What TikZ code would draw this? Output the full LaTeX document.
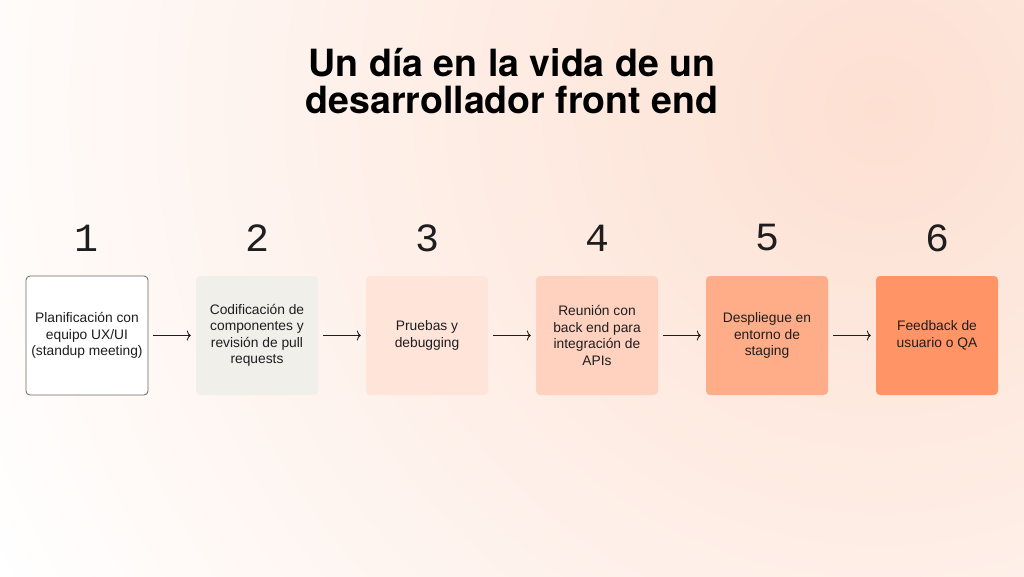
\documentclass[tikz,border=0pt]{standalone}
\usepackage{fontspec}
\usetikzlibrary{arrows.meta}
\setmainfont{Liberation Sans}
\newfontfamily\titlefont{TeX Gyre Heros}
\newfontfamily\numfont{Liberation Mono}
\definecolor{bgpeach}{HTML}{FDE0D2}
\definecolor{textdark}{HTML}{1E1E1E}
\definecolor{boxgray}{HTML}{F1EFEA}
\definecolor{boxpeachA}{HTML}{FFE4DA}
\definecolor{boxpeachB}{HTML}{FFD2C0}
\definecolor{boxpeachC}{HTML}{FFAD88}
\definecolor{boxpeachD}{HTML}{FF9466}

\begin{document}
\begin{tikzpicture}[x=1pt,y=-1pt,
        box/.style={rounded corners=4pt,minimum width=122pt,minimum height=119pt,
            align=center,text=textdark,font=\fontsize{13.8}{16.5}\selectfont,inner sep=0pt},
        num/.style={font=\numfont\fontsize{40}{40}\selectfont,text=textdark},
        flecha/.style={-{To[length=4pt,width=10pt]},line width=0.9pt,draw=textdark,
            shorten >=5pt,shorten <=5pt}]
    \useasboundingbox (0,0) rectangle (1024,576);
    \fill[white] (0,0) rectangle (1024,576);
    \begin{scope}
        \clip (0,0) rectangle (1024,576);
        \shade[inner color=bgpeach,outer color=white] (880,110) circle (1000pt);
    \end{scope}

    % titulo
    \node[align=center,text=black,font=\titlefont\bfseries\fontsize{37.5}{37}\selectfont] (titulo) at (512,81)
        {Un día en la vida de un\\desarrollador front end};

    % numeros
    \node[num] (n1) at (87,238) {1};
    \node[num] (n2) at (257,238) {2};
    \node[num] (n3) at (427,238) {3};
    \node[num] (n4) at (597,238) {4};
    \node[num] (n5) at (767,238) {5};
    \node[num] (n6) at (937,238) {6};

    % pasos
    \node[box,fill=white,draw=black!60,line width=0.8pt] (s1) at (87,335.5)
        {Planificación con\\equipo UX/UI\\(standup meeting)};
    \node[box,fill=boxgray] (s2) at (257,335.5)
        {Codificación de\\componentes y\\revisión de pull\\requests};
    \node[box,fill=boxpeachA] (s3) at (427,335.5)
        {Pruebas y\\debugging};
    \node[box,fill=boxpeachB] (s4) at (597,335.5)
        {Reunión con\\back end para\\integración de\\APIs};
    \node[box,fill=boxpeachC] (s5) at (767,335.5)
        {Despliegue en\\entorno de\\staging};
    \node[box,fill=boxpeachD] (s6) at (937,335.5)
        {Feedback de\\usuario o QA};

    \draw[flecha] (s1) -- (s2);
    \draw[flecha] (s2) -- (s3);
    \draw[flecha] (s3) -- (s4);
    \draw[flecha] (s4) -- (s5);
    \draw[flecha] (s5) -- (s6);
\end{tikzpicture}
\end{document}
